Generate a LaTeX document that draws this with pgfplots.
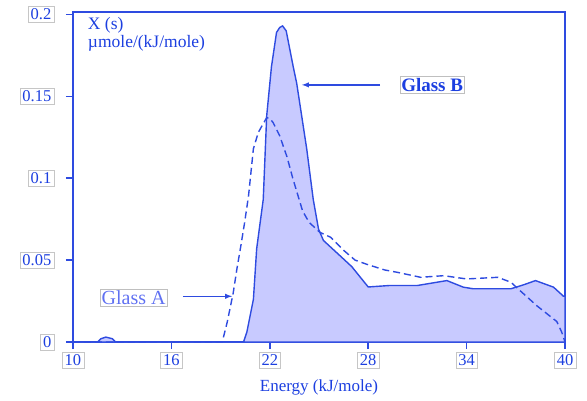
\documentclass[border=0pt]{standalone}
\usepackage{fontspec}
\setmainfont{Liberation Serif}
\usepackage{pgfplots}
\pgfplotsset{compat=1.18}
\definecolor{ablue}{HTML}{2E4BE0}
\definecolor{tblue}{HTML}{1C3FE0}
\definecolor{lblue}{HTML}{5F70F2}
\definecolor{fillb}{HTML}{C8CAFF}
\begin{document}
\begin{tikzpicture}
\useasboundingbox (-73pt,-58pt) rectangle (514pt,342pt);
\begin{axis}[
  at={(0pt,0pt)}, anchor=origin,
  scale only axis, width=492pt, height=330pt,
  xmin=10, xmax=40, ymin=0, ymax=0.2015,
  xtick={10,16,22,28,34,40},
  ytick={0,0.05,0.1,0.15,0.2},
  yticklabels={0,0.05,0.1,0.15,0.2},
  xtick pos=bottom, ytick pos=left,
  tick align=outside, major tick length=7pt,
  axis line style={ablue, line width=1.8pt},
  every tick/.style={ablue, line width=1.5pt},
  tick label style={font=\fontsize{16.5}{16.5}\selectfont, text=tblue, draw=gray!45, fill=white, inner sep=2.5pt},
  xticklabel style={yshift=-3pt},
  yticklabel style={anchor=east, xshift=-12pt},
  scaled y ticks=false,
  /pgf/number format/assume math mode=true,
  xlabel={Energy (kJ/mole)},
  xlabel style={font=\fontsize{17}{17}\selectfont, text=tblue, at={(axis description cs:0.5,0)}, anchor=center, yshift=-45pt},
  clip=false,
]
\addplot[draw=ablue, line width=1.4pt, fill=fillb] coordinates {
(10,0) (11.5,0) (11.7,0.002) (12.0,0.003) (12.4,0.002) (12.6,0) (20.4,0)
(20.6,0.006) (21.0,0.026) (21.2,0.057) (21.6,0.087) (21.81,0.138) (22.1,0.168)
(22.41,0.189) (22.6,0.192) (22.78,0.193) (23.0,0.190) (23.43,0.168) (23.64,0.158)
(24.25,0.118) (24.65,0.087) (24.97,0.069) (25.27,0.062) (26.3,0.0525) (27.0,0.046)
(28.0,0.0336) (29.3,0.0345) (31.0,0.0345) (32.2,0.0365) (32.8,0.0375) (33.8,0.0335)
(34.4,0.0325) (36.7,0.0325) (37.5,0.035) (38.2,0.0375) (39.3,0.0335) (39.9,0.028)
(40,0.028) (40,0)
} \closedcycle;
\addplot[draw=ablue, line width=1.4pt, dash pattern=on 7pt off 4pt] coordinates {
(10,0) (19.1,0) (19.4,0.012) (19.77,0.030) (20.0,0.045) (20.2,0.0566) (20.45,0.072)
(20.7,0.089) (21.0,0.118) (21.3,0.128) (21.81,0.137) (22.0,0.1365) (22.2,0.134)
(22.6,0.126) (23.05,0.113) (23.4,0.10) (23.7,0.090) (24.0,0.080) (24.4,0.073)
(25.05,0.067) (25.7,0.064) (26.5,0.056) (27.2,0.050) (27.9,0.0475) (29.0,0.044)
(29.8,0.0425) (31.2,0.0395) (32.6,0.0405) (34.0,0.0385) (35.9,0.0395) (36.7,0.0365)
(37.3,0.031) (38.3,0.022) (39.5,0.0125) (39.8,0.006) (40,0)
};
\node[anchor=north west, align=left, text=tblue, font=\fontsize{17.5}{18}\selectfont, inner sep=0pt]
  at (rel axis cs:0.03,0.985) {X (s)\\µmole/(kJ/mole)};
\node[draw=gray!50, text=tblue, font=\bfseries\fontsize{19}{19}\selectfont, inner sep=1.5pt]
  at (axis cs:31.9,0.157) {Glass B};
\draw[-latex, ablue, line width=1.4pt] (axis cs:28.72,0.157) -- (axis cs:23.96,0.157);
\node[draw=gray!50, text=lblue, font=\fontsize{20}{20}\selectfont, inner sep=1.5pt]
  at (axis cs:13.7,0.0273) {Glass A};
\draw[-latex, ablue, line width=1.4pt] (axis cs:16.7,0.0279) -- (axis cs:19.7,0.0279);
\end{axis}
\end{tikzpicture}
\end{document}
